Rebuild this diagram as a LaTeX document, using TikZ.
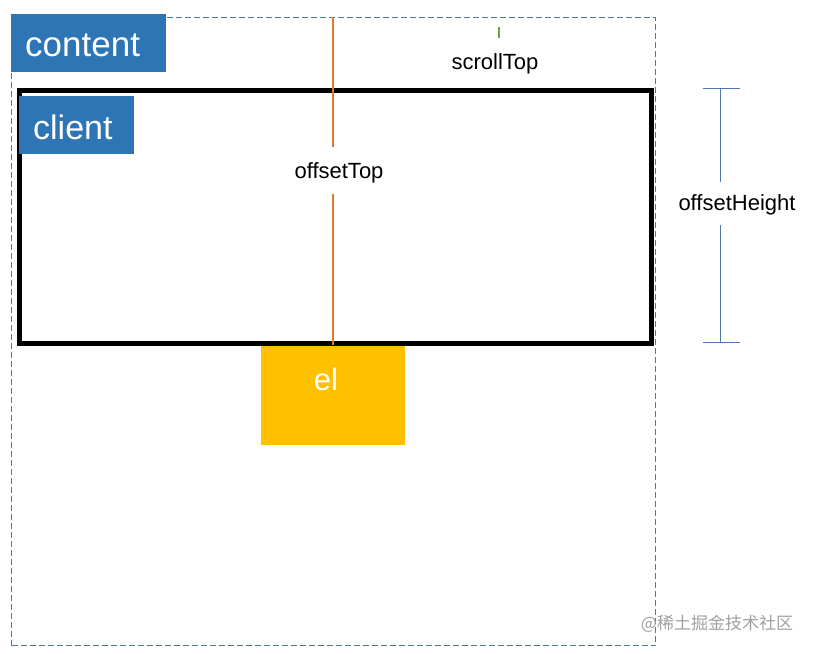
\documentclass[tikz,border=0pt]{standalone}
\usepackage{fontspec}
\setmainfont{Liberation Sans}
\newfontfamily\cjkfont{Noto Sans CJK SC}
\definecolor{boxblue}{HTML}{2E75B6}
\definecolor{elyellow}{HTML}{FFC000}
\definecolor{dashblue}{HTML}{4A78AC}
\definecolor{lineorange}{HTML}{E0782F}
\definecolor{tickgreen}{HTML}{70A040}
\definecolor{hblue}{HTML}{4F76B0}
\definecolor{wmgray}{HTML}{A0A0A0}
\tikzset{
  tag/.style={fill=boxblue, inner sep=0pt, anchor=north west},
  tagtext/.style={text=white, inner sep=0pt, anchor=west, font=\fontsize{34}{34}\selectfont},
  lbl/.style={inner sep=0pt, font=\fontsize{22}{22}\selectfont},
  olines/.style={draw=lineorange, line width=1.1pt},
  hline/.style={draw=hblue, line width=1pt},
}
\begin{document}
\begin{tikzpicture}[x=1pt,y=-1pt]
\useasboundingbox (0,0) rectangle (813,653);
% outer dashed area
\node[draw=dashblue, dash pattern=on 6pt off 3pt, line width=1pt, minimum width=644pt, minimum height=628pt, inner sep=0pt, anchor=north west] (outer) at (11,17) {};
% el box
\node[fill=elyellow, minimum width=144pt, minimum height=100pt, inner sep=0pt, anchor=north west] (el) at (261,345) {};
\node[text=white, inner sep=0pt, font=\fontsize{31}{31}\selectfont] (eltext) at (326,379) {el};
% client rect
\node[draw=black, line width=5pt, minimum width=632pt, minimum height=253pt, inner sep=0pt, anchor=north west] (client) at (16.5,88) {};
% tags
\node[tag, minimum width=155pt, minimum height=58pt] (contenttag) at (11,14) {};
\node[tagtext, font=\fontsize{35}{35}\selectfont] (contenttext) at (25,45) {content};
\node[tag, minimum width=115pt, minimum height=58pt] (clienttag) at (19,96) {};
\node[tagtext] (clienttext) at (33,127) {client};
% offsetTop
\node[lbl] (offsettop) at (339,173) {offsetTop};
\coordinate (ot1) at (333,17);
\coordinate (ot2) at (333,147);
\coordinate (ot3) at (333,194);
\coordinate (ot4) at (333,345);
\draw[olines] (ot1) -- (ot2);
\draw[olines] (ot3) -- (ot4);
% scrollTop
\node[lbl] (scrolltop) at (495,64) {scrollTop};
\coordinate (st1) at (499,27);
\coordinate (st2) at (499,38);
\draw[draw=tickgreen, line width=1.1pt] (st1) -- (st2);
% offsetHeight
\node[lbl] (offsetheight) at (737,205) {offsetHeight};
\coordinate (oh1) at (720,88);
\coordinate (oh2) at (720,182);
\coordinate (oh3) at (720,225);
\coordinate (oh4) at (720,342);
\coordinate (oht1) at (703,88);
\coordinate (oht2) at (740,88);
\coordinate (ohb1) at (703,342);
\coordinate (ohb2) at (740,342);
\draw[hline] (oht1) -- (oht2);
\draw[hline] (ohb1) -- (ohb2);
\draw[hline] (oh1) -- (oh2);
\draw[hline] (oh3) -- (oh4);
% watermark
\node[text=wmgray, inner sep=0pt, font=\cjkfont\fontsize{17}{17}\selectfont] (wm) at (717,624) {@稀土掘金技术社区};
\end{tikzpicture}
\end{document}
